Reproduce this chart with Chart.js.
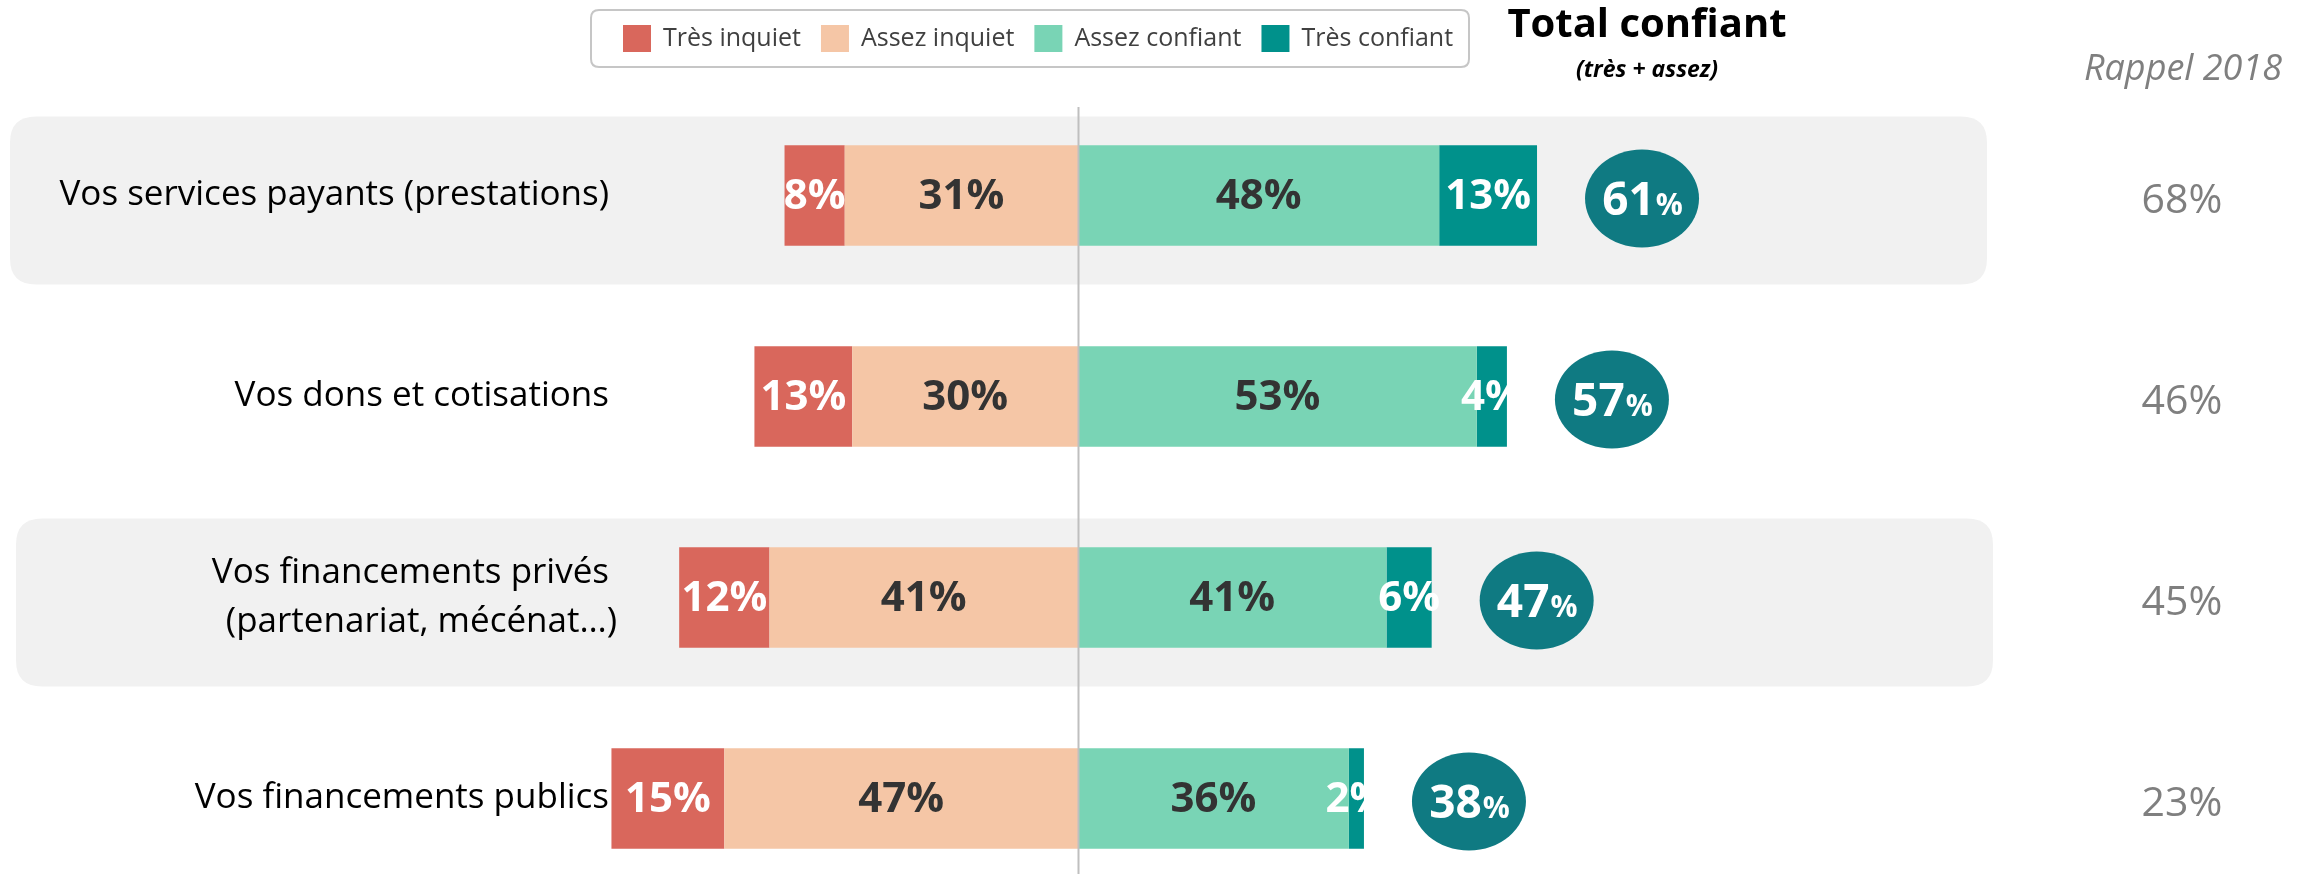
<!DOCTYPE html>
<html>
<head>
<meta charset="utf-8">
<script src="https://cdn.jsdelivr.net/npm/chart.js@4.4.1/dist/chart.umd.min.js"></script>
<style>
  html, body { margin: 0; padding: 0; background: #fff; overflow: hidden; }
  #wrap { width: 2320px; height: 900px; }
</style>
</head>
<body>
<div id="wrap"><canvas id="chart" width="2320" height="900"></canvas></div>
<script>
// donnees
const categories = [
    ['Vos services payants (prestations)'],
    ['Vos dons et cotisations'],
    ['Vos financements privés', '(partenariat, mécénat…)'],
    ['Vos financements publics']
];
const tresInquiet = [8, 13, 12, 15];
const assezInquiet = [31, 30, 41, 47];
const assezConfiant = [48, 53, 41, 36];
const tresConfiant = [13, 4, 6, 2];
const totalConfiant = [61, 57, 47, 38];
const rappel2018 = [68, 46, 45, 23];
const legendOrder = ['Très inquiet', 'Assez inquiet', 'Assez confiant', 'Très confiant'];
const shadedRows = [0, 2];

const FONT = '"Open Sans", "Noto Sans", sans-serif';

function roundRect(ctx, x, y, w, h, r) {
    ctx.beginPath();
    ctx.moveTo(x + r, y);
    ctx.lineTo(x + w - r, y);
    ctx.quadraticCurveTo(x + w, y, x + w, y + r);
    ctx.lineTo(x + w, y + h - r);
    ctx.quadraticCurveTo(x + w, y + h, x + w - r, y + h);
    ctx.lineTo(x + r, y + h);
    ctx.quadraticCurveTo(x, y + h, x, y + h - r);
    ctx.lineTo(x, y + r);
    ctx.quadraticCurveTo(x, y, x + r, y);
    ctx.closePath();
}

const decorPlugin = {
    id: 'decor',
    beforeDatasetsDraw(chart) {
        const ctx = chart.ctx;
        const y = chart.scales.y;
        ctx.save();
        ctx.fillStyle = '#f1f1f1';
        shadedRows.forEach(i => {
            const cy = y.getPixelForValue(i) + 5;
            roundRect(ctx, 10 + i * 3, cy - 84, 1977, 168, 26);
            ctx.fill();
        });
        ctx.restore();
    },
    afterDatasetsDraw(chart) {
        const ctx = chart.ctx;
        const xs = chart.scales.x;
        const ys = chart.scales.y;
        ctx.save();

        // ligne du zero
        const x0 = Math.round(xs.getPixelForValue(0)) + 0.5;
        ctx.strokeStyle = '#bfbfbf';
        ctx.lineWidth = 2;
        ctx.beginPath();
        ctx.moveTo(x0, 107);
        ctx.lineTo(x0, chart.height);
        ctx.stroke();

        // etiquettes dans les barres
        ctx.textAlign = 'center';
        ctx.textBaseline = 'middle';
        ctx.font = 'bold 42px ' + FONT;
        chart.data.datasets.forEach((ds, di) => {
            const meta = chart.getDatasetMeta(di);
            meta.data.forEach((bar, i) => {
                const v = Math.abs(ds.data[i]);
                if (!v) return;
                ctx.fillStyle = ds.labelColor;
                ctx.fillText(v + '%', (bar.x + bar.base) / 2, bar.y + 2);
            });
        });

        // cercles total confiant
        totalConfiant.forEach((t, i) => {
            const cx = xs.getPixelForValue(t) + 105;
            const cy = ys.getPixelForValue(i) + 3;
            ctx.fillStyle = '#0f7a82';
            ctx.beginPath();
            ctx.ellipse(cx, cy, 57, 49, 0, 0, Math.PI * 2);
            ctx.fill();
            ctx.fillStyle = '#fff';
            ctx.textBaseline = 'alphabetic';
            ctx.textAlign = 'left';
            ctx.font = 'bold 46px ' + FONT;
            const w1 = ctx.measureText(String(t)).width;
            ctx.font = 'bold 30px ' + FONT;
            const w2 = ctx.measureText('%').width;
            const sx = cx - (w1 + w2) / 2;
            ctx.font = 'bold 46px ' + FONT;
            ctx.fillText(String(t), sx, cy + 16);
            ctx.font = 'bold 30px ' + FONT;
            ctx.fillText('%', sx + w1 + 1, cy + 16);
        });

        // rappel 2018
        ctx.textAlign = 'center';
        ctx.textBaseline = 'middle';
        ctx.fillStyle = '#7f7f7f';
        ctx.font = '41px ' + FONT;
        rappel2018.forEach((r, i) => {
            ctx.fillText(r + '%', 2182, ys.getPixelForValue(i) + 6);
        });
        ctx.font = 'italic 36px ' + FONT;
        ctx.fillText('Rappel 2018', 2183, 70);

        // titre total
        ctx.fillStyle = '#000';
        ctx.font = 'bold 40px ' + FONT;
        ctx.fillText('Total confiant', 1647, 26);
        ctx.font = 'italic bold 23px ' + FONT;
        ctx.fillText('(très + assez)', 1647, 70);

        // libelles des categories
        ctx.textAlign = 'right';
        ctx.fillStyle = '#000';
        ctx.font = '35px ' + FONT;
        categories.forEach((lines, i) => {
            const cy = ys.getPixelForValue(i);
            const lh = 49;
            lines.forEach((ln, k) => {
                const ly = cy + (k - (lines.length - 1) / 2) * lh;
                ctx.fillText(ln, 609 + k * 8, ly);
            });
        });

        // legende
        ctx.strokeStyle = '#c6c6c6';
        ctx.lineWidth = 2;
        ctx.fillStyle = '#fff';
        roundRect(ctx, 591, 10, 878, 57, 8);
        ctx.fill();
        ctx.stroke();
        let lx = 623;
        ctx.textAlign = 'left';
        ctx.font = '25px ' + FONT;
        legendOrder.forEach(name => {
            const ds = chart.data.datasets.find(d => d.label === name);
            ctx.fillStyle = ds.backgroundColor;
            ctx.fillRect(lx, 25, 28, 27);
            ctx.fillStyle = '#404040';
            ctx.fillText(name, lx + 40, 39);
            lx += 40 + ctx.measureText(name).width + 20;
        });

        ctx.restore();
    }
};

const ctx = document.getElementById('chart').getContext('2d');

const chart = new Chart(ctx, {
    type: 'bar',
    data: {
        labels: categories,
        datasets: [
            { label: 'Assez inquiet', data: assezInquiet.map(v => -v), backgroundColor: '#f5c6a6', labelColor: '#333333' },
            { label: 'Très inquiet', data: tresInquiet.map(v => -v), backgroundColor: '#d9675c', labelColor: '#ffffff' },
            { label: 'Assez confiant', data: assezConfiant, backgroundColor: '#79d4b5', labelColor: '#333333' },
            { label: 'Très confiant', data: tresConfiant, backgroundColor: '#00918b', labelColor: '#ffffff' }
        ]
    },
    options: {
        indexAxis: 'y',
        responsive: false,
        animation: false,
        devicePixelRatio: 1,
        datasets: {
            bar: { categoryPercentage: 1, barPercentage: 0.5, borderWidth: 0 }
        },
        layout: { padding: { left: 476, right: 640, top: 95, bottom: 1 } },
        scales: {
            x: { stacked: true, min: -80, max: 80, display: false },
            y: { stacked: true, display: false }
        },
        plugins: {
            legend: { display: false },
            tooltip: { enabled: false }
        }
    },
    plugins: [decorPlugin]
});
</script>
</body>
</html>
